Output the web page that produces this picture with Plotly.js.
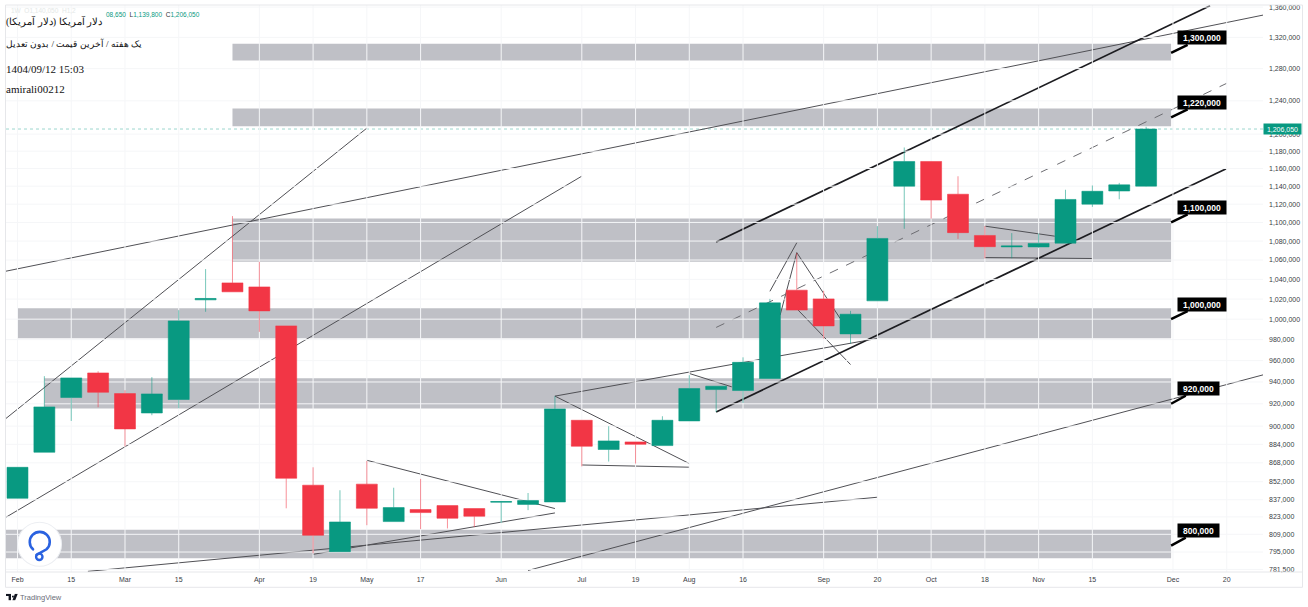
<!DOCTYPE html>
<html>
<head>
<meta charset="utf-8">
<script src="https://cdn.plot.ly/plotly-3.0.1.min.js"></script>
<style>html,body{margin:0;padding:0;background:#fff;overflow:hidden}#chart{width:1308px;height:607px}
#chart svg, #chart svg path{shape-rendering:geometricPrecision !important}</style>
</head>
<body>
<div id="chart"></div>
<script>
// Weekly candles
const opens  = [838200,877100,925700,948400,929300,911700,923900,1019200,1036400,1032300,993400,849100,795300,850000,819200,829000,832200,829800,835000,833200,835200,905200,879500,886100,882900,904600,933000,932100,943200,1029000,1020200,985600,1018200,1140000,1168100,1131000,1086000,1073800,1073800,1077800,1120000,1134600,1140050];
const highs  = [864200,945400,943800,950000,932400,944500,1008900,1050600,1106900,1058100,993400,864200,844900,869600,847000,854400,832200,829800,835500,842600,927000,905200,899900,886100,908800,946300,936100,963100,1020200,1067400,1028300,1008200,1096000,1184300,1168100,1151200,1096000,1088500,1088100,1136000,1140800,1143700,1208650];
const lows   = [838200,877100,904600,916900,882300,909700,916000,1007300,1027300,987600,830000,794000,795300,816300,819200,813200,813700,814800,818100,828500,835200,865000,869100,867400,882900,904600,912600,920800,943200,1009000,981000,976300,1018200,1093100,1104200,1082300,1061700,1061900,1072800,1077800,1117000,1125400,1139800];
const closes = [864200,917200,943800,930500,897500,929000,998300,1020600,1027300,1008200,854900,808200,818900,830000,830600,826500,821900,823500,835500,836400,915400,882300,887000,884000,905200,934000,936100,958400,1016200,1009000,993400,1004900,1082800,1168100,1124500,1089000,1074000,1074800,1077500,1125200,1134300,1141500,1206050];
const weeks = opens.map((_, i) => i);

// Axis labels
const timeTicks  = [0,2,4,6,9,11,13,15,18,21,23,25,27,30,32,34,36,38,40,43,45];
const timeLabels = ['Feb','15','Mar','15','Apr','19','May','17','Jun','Jul','19','Aug','16','Sep','20','Oct','18','Nov','15','Dec','20'];
const priceTicks = [781500,795000,809000,823000,837000,852000,868000,884000,900000,920000,940000,960000,980000,1000000,1020000,1040000,1060000,1080000,1100000,1120000,1140000,1160000,1180000,1200000,1240000,1280000,1320000,1360000];
const priceLabels = priceTicks.map(v => v.toLocaleString('en-US'));

// Support / resistance zones: [first week, low, high]
const zoneEnd = 42.93;
const zones = [
  [8, 1290300, 1311700],
  [8, 1209400, 1230700],
  [8, 1058100, 1104400],
  [0, 981500, 1010900],
  [1, 915700, 943500],
  [-0.43, 790100, 812700]
];

// Level tags on the zones
const levels = [1300000, 1220000, 1100000, 1000000, 920000, 800000];
const lastPrice = 1206050;

// Trend lines: [week, price, week, price]
const thinLines = [
  [-0.43,1048400,46.35,1349300],
  [-0.43,906800,13,1207100],
  [-0.43,822700,21,1151300],
  [2.62,780000,32,839100],
  [11,793200,20,826200],
  [13,870200,20,829800],
  [20,927000,32,981200],
  [20,927000,25,867400],
  [21,866200,25,864300],
  [25,947900,26.58,935500],
  [19,780700,46.35,946600],
  [28,1027800,29,1078200],
  [28.38,1004000,29,1067800],
  [29,1067800,31,985300],
  [29.05,1009000,31,956300],
  [36,1096000,38.6,1085200],
  [36,1062600,40,1061600]
];
const heavyLines = [
  [26,912600,45,1160000],
  [26,1079100,44.38,1361700]
];
const dashedLines = [
  [26,991900,45,1261600]
];

// Canvas geometry helpers (page pixels to paper fractions, for the page furniture only)
const W = 1308, H = 607, L = 6, R = 1263, T = 5, B = 571.7;
const px = x => (x - L) / (R - L);
const py = y => 1 - (y - T) / (B - T);

const GREEN = '#089981', RED = '#F23645';

const shapes = [];
zones.forEach(z => shapes.push({type:'rect', layer:'below', xref:'x', yref:'y', x0:z[0], x1:zoneEnd, y0:z[1], y1:z[2], fillcolor:'#bfc0c6', line:{width:0}}));
const addLine = (l, color, width, dash) => shapes.push({type:'line', layer:'below', xref:'x', yref:'y', x0:l[0], y0:l[1], x1:l[2], y1:l[3], line:{color, width, dash}});
thinLines.forEach(l => addLine(l, '#505055', 1, 'solid'));
heavyLines.forEach(l => addLine(l, '#1c1c20', 1.7, 'solid'));
dashedLines.forEach(l => addLine(l, '#6d6d72', 1, 'dash'));
// last price dotted line
shapes.push({type:'line', layer:'below', xref:'paper', yref:'y', x0:0, x1:1, y0:lastPrice, y1:lastPrice, line:{color:'rgba(8,153,129,0.4)', width:1, dash:'dot'}});
// frame
const frame = [[5.5,5,1302.5,5],[5.5,5,5.5,587],[1302.5,5,1302.5,587],[5.5,587,1302.5,587],[5.5,571.7,1302.5,571.7]];
frame.forEach(f => shapes.push({type:'line', layer:'above', xref:'paper', yref:'paper', x0:px(f[0]), y0:py(f[1]), x1:px(f[2]), y1:py(f[3]), line:{color:'#e6e7ea', width:1}}));

const annotations = [];
levels.forEach(v => {
  const wide = v >= 1000000;
  annotations.push({
    xref:'x', yref:'y', x:zoneEnd, y:Math.log10(v), axref:'pixel', ayref:'pixel',
    ax: wide ? 31 : 27.5, ay:-15, showarrow:true, arrowhead:0, arrowwidth:2.4, arrowcolor:'#000',
    text:v.toLocaleString('en-US'), font:{family:'Liberation Sans, sans-serif', size:8.5, color:'#fff', weight:'bold'},
    bgcolor:'#000', width: wide ? 48 : 41, height:13, borderpad:0, align:'center', standoff:0
  });
});
annotations.push({xref:'paper', yref:'y', x:1, y:Math.log10(lastPrice), xanchor:'left', showarrow:false,
  text:lastPrice.toLocaleString('en-US'), font:{family:'Liberation Sans, sans-serif', size:7, color:'#fff'}, bgcolor:GREEN, width:37, height:10, borderpad:0});

const serif = 'Liberation Serif, DejaVu Serif, serif';
const headLines = [
  ['\u202Bدلار آمریکا (دلار آمریکا)\u202C', 21.5, 10],
  ['یک هفته / آخرین قیمت / بدون تعدیل', 44, 9.2],
  ['1404/09/12 15:03', 69, 11],
  ['amirali00212', 89, 11]
];
headLines.forEach(h => annotations.push({xref:'paper', yref:'paper', x:px(5), y:py(h[1]), xanchor:'left', yanchor:'middle', showarrow:false, borderpad:0,
  text:h[0], font:{family:serif, size:h[2], color:'#111'}}));
annotations.push({xref:'paper', yref:'paper', x:px(10), y:py(10.5), xanchor:'left', yanchor:'middle', showarrow:false, borderpad:0,
  text:'1W  O1,140,050  H1,2', font:{family:'Liberation Sans, sans-serif', size:6.5, color:'#e4e8e7'}});
annotations.push({xref:'paper', yref:'paper', x:px(105), y:py(14), xanchor:'left', yanchor:'middle', showarrow:false, borderpad:0,
  text:'<span style="color:#089981">08,650</span>  <span style="color:#333">L</span><span style="color:#089981">1,139,800</span>  <span style="color:#333">C</span><span style="color:#089981">1,206,050</span>',
  font:{family:'Liberation Sans, sans-serif', size:6.5, color:'#089981'}});
annotations.push({xref:'paper', yref:'paper', x:px(19), y:py(597), xanchor:'left', yanchor:'middle', showarrow:false, borderpad:0,
  text:'TradingView', font:{family:'Liberation Sans, sans-serif', size:7.5, color:'#6a6d78'}});

const logoSvg = 'data:image/svg+xml,' + encodeURIComponent(
 '<svg xmlns="http://www.w3.org/2000/svg" width="46" height="46" viewBox="0 0 46 46">' +
 '<circle cx="23" cy="23" r="22" fill="#fff" stroke="#eceef2" stroke-width="1"/>' +
 '<path d="M16.5 28 A10 10 0 1 1 30 28 L20 33.5" fill="none" stroke="#2a62e0" stroke-width="2.6" stroke-linecap="round"/>' +
 '<circle cx="22.8" cy="35.5" r="3.2" fill="none" stroke="#2a62e0" stroke-width="2.4"/></svg>');
const tvSvg = 'data:image/svg+xml,' + encodeURIComponent(
 '<svg xmlns="http://www.w3.org/2000/svg" width="12" height="7" viewBox="0 0 12 7">' +
 '<path d="M0 0H5V6.5H2.6V2.2H0Z M7 1.6a1.1 1.1 0 1 0 0.01 0Z M6.4 6.5L8.9 0H11.8L9.2 6.5Z" fill="#131722"/></svg>');

const images = [
  {source:logoSvg, xref:'paper', yref:'paper', x:px(16.5), y:py(521), sizex:46/(R-L), sizey:46/(B-T), xanchor:'left', yanchor:'top', layer:'above', sizing:'stretch'},
  {source:tvSvg, xref:'paper', yref:'paper', x:px(6), y:py(593.5), sizex:12/(R-L), sizey:7/(B-T), xanchor:'left', yanchor:'top', layer:'above', sizing:'stretch'}
];

const trace = {
  type:'candlestick', x:weeks, open:opens, high:highs, low:lows, close:closes,
  whiskerwidth:0, hoverinfo:'skip', showlegend:false,
  increasing:{line:{color:'rgba(8,153,129,0.55)', width:1}, fillcolor:GREEN},
  decreasing:{line:{color:'rgba(242,54,69,0.55)', width:1}, fillcolor:RED}
};

const layout = {
  width:W, height:H, autosize:false, showlegend:false,
  paper_bgcolor:'#fff', plot_bgcolor:'#fff',
  margin:{l:L, r:W-R, t:T, b:H-B, pad:0},
  boxgap:0.22, boxgroupgap:0,
  font:{family:'Liberation Sans, sans-serif', color:'#3a3d45', size:7},
  xaxis:{type:'linear', range:[-0.428,46.35], tickmode:'array', tickvals:timeTicks, ticktext:timeLabels,
    rangeslider:{visible:false}, showgrid:true, gridcolor:'#f5f6f8', gridwidth:1, zeroline:false, showline:false, ticks:'', ticklen:0,
    tickfont:{size:7, color:'#3a3d45'}, ticklabelstandoff:2, automargin:false, fixedrange:true},
  yaxis:{type:'log', side:'right', range:[5.89182, 6.13443], tickmode:'array', tickvals:priceTicks, ticktext:priceLabels,
    showgrid:true, gridcolor:'#f5f6f8', gridwidth:1, zeroline:false, showline:false, ticks:'', ticklen:0,
    tickfont:{size:7, color:'#3a3d45'}, ticklabelstandoff:5, automargin:false, fixedrange:true},
  shapes, annotations, images
};

Plotly.newPlot('chart', [trace], layout, {displayModeBar:false, staticPlot:true});
</script>
</body>
</html>
